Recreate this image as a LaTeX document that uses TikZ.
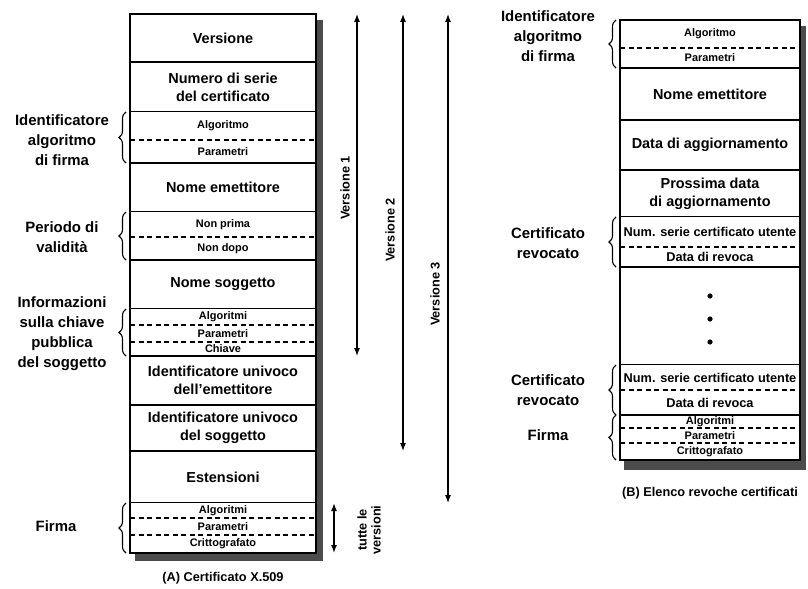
\documentclass[tikz,border=0pt]{standalone}
\usepackage{fontspec}
\setmainfont{Liberation Sans}
\usetikzlibrary{arrows.meta,positioning,decorations.pathreplacing,backgrounds}

\newcommand\fieldfont{\fontsize{14.5}{18}\selectfont\bfseries}
\newcommand\midfont{\fontsize{12.8}{15}\selectfont\bfseries}
\newcommand\subfont{\fontsize{11}{12}\selectfont\bfseries}
\newcommand\sidefont{\fontsize{15}{20}\selectfont\bfseries}
\newcommand\verfont{\fontsize{12.8}{14}\selectfont\bfseries}
\newcommand\capfont{\fontsize{12.8}{15}\selectfont\bfseries}

\begin{document}
\begin{tikzpicture}[x=1bp,y=-1bp,>={Latex[length=8bp,width=6bp]},
  row/.style={inner sep=0pt,outer sep=0pt,align=center,fill=white,font=\fieldfont},
  lrow/.style={row,draw,line width=1.6bp,minimum width=186bp},
  rrow/.style={row,draw,line width=1.6bp,minimum width=180bp},
  lsub/.style={row,minimum width=186bp,font=\subfont},
  rsub/.style={row,minimum width=180bp,font=\subfont},
  frame/.style={line width=2.2bp},
  sepdash/.style={line width=1.3bp,dash pattern=on 5bp off 3.5bp},
  bracket/.style={decorate,decoration={brace,amplitude=7bp},line width=1.1bp},
  sidelabel/.style={align=center,font=\sidefont},
  verlabel/.style={rotate=90,align=center,font=\verfont},
  shadowfill/.style={fill=black!70}]
\useasboundingbox (0,0) rectangle (808,589);

% (A) certificate fields
\node[lrow,minimum height=48bp,anchor=north west] (ver) at (130,14) {Versione};
\node[lrow,minimum height=50bp,below=0pt of ver] (num) {Numero di serie\\del certificato};
\node[lsub,minimum height=28bp,below=0pt of num] (alg) {Algoritmo};
\node[lsub,minimum height=23bp,below=0pt of alg] (par) {Parametri};
\node[lrow,minimum height=49bp,below=0pt of par] (emi) {Nome emettitore};
\node[lsub,minimum height=25bp,below=0pt of emi] (nbef) {Non prima};
\node[lsub,minimum height=23bp,below=0pt of nbef] (naft) {Non dopo};
\node[lrow,minimum height=49bp,below=0pt of naft] (subj) {Nome soggetto};
\node[lsub,minimum height=16bp,below=0pt of subj] (kalg) {Algoritmi};
\node[lsub,minimum height=17bp,below=0pt of kalg] (kpar) {Parametri};
\node[lsub,minimum height=14bp,below=0pt of kpar] (key) {Chiave};
\node[lrow,minimum height=49bp,below=0pt of key] (uide) {Identificatore univoco\\dell'emettitore};
\node[lrow,minimum height=46bp,below=0pt of uide] (uids) {Identificatore univoco\\del soggetto};
\node[lrow,minimum height=52bp,below=0pt of uids] (ext) {Estensioni};
\node[lsub,minimum height=15bp,below=0pt of ext] (salg) {Algoritmi};
\node[lsub,minimum height=17bp,below=0pt of salg] (spar) {Parametri};
\node[lsub,minimum height=18bp,below=0pt of spar] (scrit) {Crittografato};
\draw[frame] (ver.north west) rectangle (scrit.south east);

% (B) revocation list fields
\node[rsub,minimum height=28bp,anchor=north west] (ralg) at (620,20) {Algoritmo};
\node[rsub,minimum height=20bp,below=0pt of ralg] (rpar) {Parametri};
\node[rrow,minimum height=52bp,below=0pt of rpar] (remi) {Nome emettitore};
\node[rrow,minimum height=50bp,below=0pt of remi] (upd) {Data di aggiornamento};
\node[rrow,minimum height=47bp,below=0pt of upd] (next) {Prossima data\\di aggiornamento};
\node[rsub,minimum height=30bp,below=0pt of next,font=\midfont] (rnum) {Num. serie certificato utente};
\node[rsub,minimum height=20bp,below=0pt of rnum,font=\midfont] (rdate) {Data di revoca};
\node[rrow,minimum height=98bp,below=0pt of rdate] (dots) {};
\node[rsub,minimum height=25bp,below=0pt of dots,font=\midfont] (rnum2) {Num. serie certificato utente};
\node[rsub,minimum height=25bp,below=0pt of rnum2,font=\midfont] (rdate2) {Data di revoca};
\node[rsub,minimum height=13bp,below=0pt of rdate2] (falg) {Algoritmi};
\node[rsub,minimum height=15bp,below=0pt of falg] (fpar) {Parametri};
\node[rsub,minimum height=17bp,below=0pt of fpar] (fcrit) {Crittografato};
\draw[frame] (ralg.north west) rectangle (fcrit.south east);
\draw[line width=1.6bp] (rdate2.south west) -- (rdate2.south east);
\foreach \d in {20,-3,-26}
  \fill ([yshift=\d bp]dots.center) circle (2.6bp);

\foreach \n in {alg,nbef,kalg,kpar,salg,spar,ralg,rnum,rnum2,falg,fpar}
  \draw[sepdash] (\n.south west) -- (\n.south east);

\begin{scope}[on background layer]
\fill[shadowfill] ([xshift=7bp,yshift=-6bp]ver.north east) rectangle ([xshift=5bp,yshift=-8bp]scrit.south west);
\fill[shadowfill] ([xshift=6bp,yshift=-6bp]ralg.north east) rectangle ([xshift=4bp,yshift=-10bp]fcrit.south west);
\end{scope}

% braces and group names
\foreach \a/\b in {alg/par,nbef/naft,kalg/key,salg/scrit,ralg/rpar,rnum/rdate,rnum2/rdate2,falg/fcrit}
  \draw[bracket] ([xshift=-4bp]\b.south west) -- ([xshift=-4bp]\a.north west);

\coordinate (lcol) at (62,0);
\coordinate (rcol) at (548,0);
\node[sidelabel] (lidalg) at (lcol |- par.north) {Identificatore\\algoritmo\\di firma};
\node[sidelabel] (lper) at (lcol |- naft.north) {Periodo di\\validità};
\node[sidelabel] (lkey) at (lcol |- kpar.center) {Informazioni\\sulla chiave\\pubblica\\del soggetto};
\node[sidelabel] (lsig) at ([xshift=-6bp]lcol |- spar.center) {Firma};
\node[sidelabel] (ridalg) at ([yshift=12bp]rcol |- ralg.south) {Identificatore\\algoritmo\\di firma};
\node[sidelabel] (rrev) at ([yshift=4bp]rcol |- rnum.south) {Certificato\\revocato};
\node[sidelabel] (rrev2) at (rcol |- rnum2.south) {Certificato\\revocato};
\node[sidelabel] (rsig) at (rcol |- fpar.center) {Firma};

% version ranges
\coordinate (v1) at (357,0);
\coordinate (v2) at (403,0);
\coordinate (v3) at (448,0);
\coordinate (va) at (334,0);
\draw[<->,line width=1.1bp] (ver.north -| v1) -- (uide.north -| v1);
\draw[<->,line width=1.1bp] (ver.north -| v2) -- (ext.north -| v2);
\draw[<->,line width=1.1bp] (ver.north -| v3) -- (salg.north -| v3);
\draw[<->,line width=1.5bp] (salg.north -| va) -- (scrit.south -| va);
\node[verlabel] (lv1) at (345,188) {Versione 1};
\node[verlabel] (lv2) at (390,230) {Versione 2};
\node[verlabel] (lv3) at (435,294) {Versione 3};
\node[verlabel] (lall) at (369,530) {tutte le\\versioni};

\node[font=\capfont,below=16bp of scrit] (capA) {(A) Certificato X.509};
\node[font=\capfont,below=24bp of fcrit] (capB) {(B) Elenco revoche certificati};
\end{tikzpicture}
\end{document}
